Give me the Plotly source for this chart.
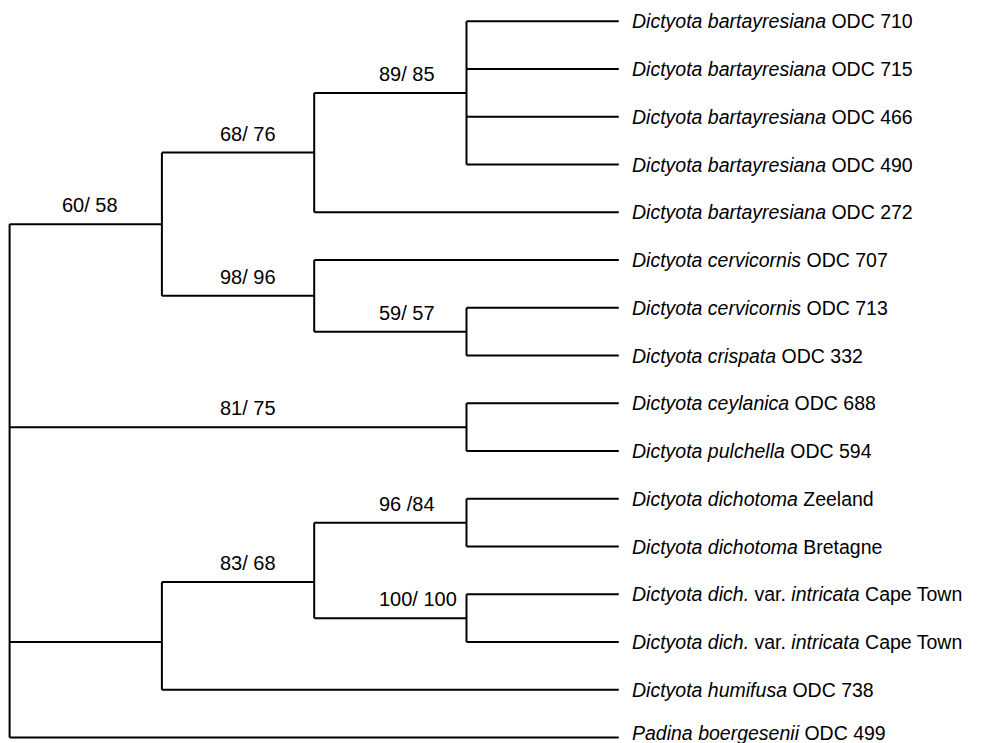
import plotly.graph_objects as go

# ---------------- data ----------------
leaf_names = [
    "<i>Dictyota bartayresiana</i> ODC 710",
    "<i>Dictyota bartayresiana</i> ODC 715",
    "<i>Dictyota bartayresiana</i> ODC 466",
    "<i>Dictyota bartayresiana</i> ODC 490",
    "<i>Dictyota bartayresiana</i> ODC 272",
    "<i>Dictyota cervicornis</i> ODC 707",
    "<i>Dictyota cervicornis</i> ODC 713",
    "<i>Dictyota crispata</i> ODC 332",
    "<i>Dictyota ceylanica</i> ODC 688",
    "<i>Dictyota pulchella</i> ODC 594",
    "<i>Dictyota dichotoma</i> Zeeland",
    "<i>Dictyota dichotoma</i> Bretagne",
    "<i>Dictyota dich.</i> var. <i>intricata</i> Cape Town",
    "<i>Dictyota dich.</i> var. <i>intricata</i> Cape Town",
    "<i>Dictyota humifusa</i> ODC 738",
    "<i>Padina boergesenii</i> ODC 499",
]

# clade supports (bootstrap values) and topology; leaves referenced by index
clade_8985 = {"label": "89/ 85", "children": [0, 1, 2, 3]}
clade_6876 = {"label": "68/ 76", "children": [clade_8985, 4]}
clade_5957 = {"label": "59/ 57", "children": [6, 7]}
clade_9896 = {"label": "98/ 96", "children": [5, clade_5957]}
clade_6058 = {"label": "60/ 58", "children": [clade_6876, clade_9896]}
clade_8175 = {"label": "81/ 75", "children": [8, 9]}
clade_9684 = {"label": "96 /84", "children": [10, 11]}
clade_100 = {"label": "100/ 100", "children": [12, 13]}
clade_8368 = {"label": "83/ 68", "children": [clade_9684, clade_100], "y": 11.74}
clade_hum = {"label": "", "children": [clade_8368, 14], "y": 13.0}
root = {"label": "", "children": [clade_6058, clade_8175, clade_hum, 15]}

# ---------------- layout of the tree ----------------
N_LEVELS = 4


def height(n):
    if isinstance(n, int):
        return 0
    return 1 + max(height(c) for c in n["children"])


def level(n):
    return N_LEVELS - height(n)


def ypos(n):
    if isinstance(n, int):
        return float(n)
    if "y" in n:
        return n["y"]
    ch = n["children"]
    return (ypos(ch[0]) + ypos(ch[-1])) / 2.0


xs, ys = [], []
support_ann = []


def draw(n):
    lv = level(n)
    ch = n["children"]
    # vertical connector
    xs.extend([lv, lv, None])
    ys.extend([ypos(ch[0]), ypos(ch[-1]), None])
    for c in ch:
        cl = level(c)
        cy = ypos(c)
        xs.extend([lv, cl, None])
        ys.extend([cy, cy, None])
        if not isinstance(c, int):
            if c["label"]:
                col = max(lv, cl - 2)
                support_ann.append((col, cy, c["label"]))
            draw(c)


draw(root)

fig = go.Figure()
fig.add_trace(go.Scatter(
    x=xs, y=ys, mode="lines",
    line=dict(color="black", width=2),
    hoverinfo="skip", showlegend=False,
))

FONT = "Liberation Sans, Arial, Helvetica, sans-serif"
annotations = []
n_leaves = len(leaf_names)
for i, name in enumerate(leaf_names):
    annotations.append(dict(
        x=N_LEVELS, y=i, xref="x", yref="y", text=name,
        showarrow=False, xanchor="left", yanchor="middle", xshift=11,
        yshift=5 if i == n_leaves - 1 else 0,  # keep bottom label inside the frame
        font=dict(family=FONT, size=19.5, color="black"),
    ))
for col, cy, lab in support_ann:
    annotations.append(dict(
        x=col * 1.04 + 0.33, y=cy, xref="x", yref="y", text=lab,
        showarrow=False, xanchor="left", yanchor="bottom", yshift=6,
        font=dict(family=FONT, size=20, color="black"),
    ))

# page body has an 8px default margin, so the figure is offset by 8px
unit_x = 152.3
x0_px = 1.6
unit_y = 47.75
y0_px = 13.3
W, H = 985, 735

fig.update_layout(
    width=W, height=H,
    margin=dict(l=0, r=0, t=0, b=0),
    paper_bgcolor="white", plot_bgcolor="white",
    annotations=annotations,
    xaxis=dict(range=[-x0_px / unit_x, (W - x0_px) / unit_x], visible=False, fixedrange=True),
    yaxis=dict(range=[(H - y0_px) / unit_y, -y0_px / unit_y], visible=False, fixedrange=True),
)

fig.write_html("out.html")
